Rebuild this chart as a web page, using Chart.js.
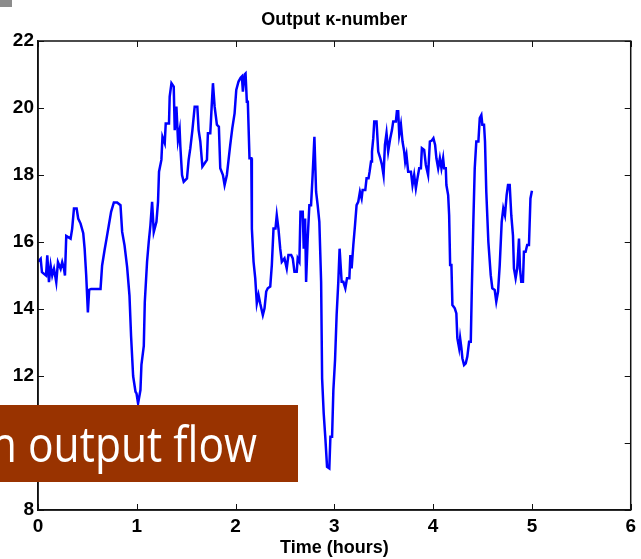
<!DOCTYPE html>
<html>
<head>
<meta charset="utf-8">
<script src="https://cdn.jsdelivr.net/npm/chart.js@4.4.0/dist/chart.umd.min.js"></script>
<style>
  html, body { margin: 0; padding: 0; background: #fff; }
  #wrap { width: 641px; height: 559px; }
</style>
</head>
<body>
<div id="wrap"><canvas id="myChart" width="641" height="559"></canvas></div>
<script>
// values
var timeHours = [
  0.000, 0.027, 0.040, 0.081, 0.094, 0.111, 0.128, 0.144, 0.162, 0.185,
  0.202, 0.229, 0.245, 0.263, 0.273, 0.286, 0.330, 0.346, 0.364, 0.391,
  0.407, 0.431, 0.458, 0.472, 0.488, 0.505, 0.518, 0.538, 0.633, 0.649,
  0.674, 0.694, 0.717, 0.740, 0.768, 0.801, 0.835, 0.852, 0.876, 0.902,
  0.926, 0.942, 0.963, 0.987, 0.997, 1.013, 1.037, 1.047, 1.071, 1.081,
  1.104, 1.121, 1.138, 1.155, 1.172, 1.199, 1.215, 1.225, 1.249, 1.260,
  1.283, 1.293, 1.326, 1.333, 1.351, 1.374, 1.384, 1.401, 1.417, 1.434,
  1.441, 1.458, 1.475, 1.508, 1.525, 1.542, 1.563, 1.586, 1.613, 1.626,
  1.643, 1.664, 1.687, 1.710, 1.720, 1.744, 1.758, 1.771, 1.788, 1.811,
  1.831, 1.845, 1.872, 1.889, 1.912, 1.929, 1.946, 1.967, 1.990, 2.007,
  2.030, 2.051, 2.064, 2.074, 2.091, 2.101, 2.114, 2.124, 2.141, 2.159,
  2.165, 2.182, 2.199, 2.215, 2.232, 2.249, 2.276, 2.293, 2.310, 2.326,
  2.351, 2.367, 2.384, 2.404, 2.417, 2.434, 2.452, 2.468, 2.495, 2.518,
  2.535, 2.563, 2.579, 2.596, 2.619, 2.629, 2.646, 2.657, 2.680, 2.690,
  2.704, 2.714, 2.730, 2.747, 2.764, 2.780, 2.798, 2.815, 2.831, 2.848,
  2.866, 2.876, 2.892, 2.909, 2.926, 2.949, 2.960, 2.977, 2.990, 3.007,
  3.023, 3.040, 3.053, 3.074, 3.091, 3.111, 3.128, 3.152, 3.162, 3.175,
  3.192, 3.209, 3.225, 3.242, 3.259, 3.276, 3.286, 3.313, 3.326, 3.346,
  3.357, 3.371, 3.381, 3.394, 3.404, 3.427, 3.444, 3.465, 3.482, 3.498,
  3.512, 3.528, 3.545, 3.566, 3.583, 3.596, 3.623, 3.633, 3.646, 3.657,
  3.674, 3.690, 3.707, 3.717, 3.730, 3.747, 3.775, 3.791, 3.808, 3.825,
  3.841, 3.859, 3.876, 3.886, 3.909, 3.926, 3.949, 3.967, 3.987, 4.003,
  4.020, 4.033, 4.051, 4.068, 4.084, 4.101, 4.111, 4.128, 4.134, 4.152,
  4.162, 4.172, 4.185, 4.195, 4.219, 4.235, 4.245, 4.263, 4.273, 4.286,
  4.296, 4.313, 4.330, 4.346, 4.364, 4.381, 4.391, 4.407, 4.421, 4.437,
  4.458, 4.472, 4.488, 4.498, 4.515, 4.525, 4.538, 4.559, 4.583, 4.599,
  4.623, 4.639, 4.657, 4.674, 4.694, 4.710, 4.727, 4.744, 4.758, 4.775,
  4.791, 4.808, 4.818, 4.835, 4.851, 4.869, 4.879, 4.892, 4.909, 4.919,
  4.936, 4.952, 4.970, 4.985, 5.000
];
var kappaNumber = [
  15.41, 15.50, 15.10, 15.00, 15.60, 14.80, 15.30, 15.00, 15.20, 14.80,
  15.40, 15.20, 15.40, 15.20, 15.00, 16.18, 16.10, 16.40, 17.00, 17.00,
  16.70, 16.55, 16.26, 15.80, 15.00, 13.90, 14.57, 14.60, 14.60, 15.30,
  15.76, 16.10, 16.50, 16.90, 17.18, 17.18, 17.10, 16.30, 15.90, 15.26,
  14.40, 13.20, 12.00, 11.53, 11.48, 11.18, 11.58, 12.33, 12.90, 14.20,
  15.41, 16.00, 16.50, 17.20, 16.30, 16.60, 17.20, 18.10, 18.45, 19.14,
  18.95, 19.54, 19.54, 20.34, 20.74, 20.64, 19.34, 20.04, 19.04, 19.34,
  18.85, 18.00, 17.80, 17.90, 18.45, 18.80, 19.34, 20.04, 20.04, 19.34,
  19.00, 18.25, 18.35, 18.45, 19.25, 19.25, 20.04, 20.74, 20.04, 19.50,
  19.44, 18.20, 18.00, 17.70, 18.00, 18.45, 18.90, 19.40, 19.84, 20.54,
  20.79, 20.90, 20.94, 20.49, 21.00, 21.03, 20.19, 20.19, 18.50, 18.50,
  16.40, 15.41, 14.92, 14.17, 14.42, 14.17, 13.82, 14.02, 14.52, 14.62,
  14.67, 15.31, 16.40, 16.40, 16.80, 16.40, 15.80, 15.41, 15.51, 15.21,
  15.61, 15.61, 15.51, 15.11, 15.11, 15.51, 15.41, 16.90, 16.90, 15.80,
  16.70, 14.81, 16.10, 17.10, 17.10, 18.00, 19.14, 17.50, 17.10, 16.60,
  14.81, 11.93, 10.89, 10.14, 9.29, 9.24, 10.19, 10.19, 11.58, 12.48,
  13.82, 14.81, 15.80, 14.81, 14.81, 14.62, 14.92, 14.92, 15.61, 15.21,
  15.91, 16.50, 17.10, 17.20, 17.50, 17.30, 17.55, 17.55, 17.90, 17.90,
  18.10, 18.40, 18.70, 19.10, 19.60, 19.60, 18.70, 18.50, 18.30, 18.00,
  18.90, 19.25, 18.70, 19.10, 19.34, 19.60, 19.60, 19.90, 19.90, 19.20,
  19.50, 19.00, 18.70, 18.40, 18.60, 18.10, 18.10, 17.70, 18.00, 17.60,
  17.90, 18.20, 18.20, 18.80, 18.75, 18.30, 18.00, 19.00, 19.03, 19.10,
  18.90, 18.50, 18.20, 18.50, 18.20, 18.50, 18.20, 18.20, 17.70, 17.40,
  16.80, 15.31, 15.31, 14.12, 14.02, 13.87, 13.13, 12.83, 13.13, 12.83,
  12.53, 12.33, 12.38, 12.58, 13.02, 13.02, 14.52, 16.60, 18.20, 19.00,
  19.00, 19.70, 19.79, 19.50, 19.50, 19.00, 17.50, 16.00, 15.01, 14.62,
  14.57, 14.22, 14.52, 15.31, 16.60, 17.00, 16.80, 17.40, 17.70, 17.70,
  16.80, 16.20, 15.21, 14.92, 15.21, 16.10, 15.21, 14.81, 14.81, 15.71,
  15.71, 15.91, 15.91, 17.30, 17.53
];
var xTickValues = [0, 1, 2, 3, 4, 5, 6];
var yTickValues = [8, 10, 12, 14, 16, 18, 20, 22];
var chartTitle = 'Output κ-number';
var xAxisTitle = 'Time (hours)';
var bannerText = 'n output flow';

var points = timeHours.map(function (t, i) { return { x: t, y: kappaNumber[i] }; });

// box, inward ticks, titles and the slide overlay on top
var matlabFrame = {
    id: 'matlabFrame',
    afterDraw: function (chart) {
        var c = chart.ctx;
        var a = chart.chartArea;
        var xs = chart.scales.x;
        var ys = chart.scales.y;
        c.save();
        c.strokeStyle = '#111';
        c.lineWidth = 1.5;
        c.strokeRect(a.left, a.top, a.right - a.left, a.bottom - a.top);
        c.lineWidth = 1;
        c.beginPath();
        xTickValues.forEach(function (v) {
            var px = Math.round(xs.getPixelForValue(v)) + 0.5;
            c.moveTo(px, a.bottom); c.lineTo(px, a.bottom - 6);
            c.moveTo(px, a.top); c.lineTo(px, a.top + 6);
        });
        yTickValues.forEach(function (v) {
            var py = Math.round(ys.getPixelForValue(v)) + 0.5;
            c.moveTo(a.left, py); c.lineTo(a.left + 6, py);
            c.moveTo(a.right, py); c.lineTo(a.right - 6, py);
        });
        c.stroke();

        c.fillStyle = '#000';
        c.font = 'bold 18px "Liberation Sans", Arial, sans-serif';
        c.textAlign = 'center';
        c.textBaseline = 'alphabetic';
        c.fillText(chartTitle, (a.left + a.right) / 2, 25);
        c.fillText(xAxisTitle, (a.left + a.right) / 2, 553);

        c.fillStyle = '#8c8c8c';
        c.fillRect(0, 0, 12, 7);

        c.fillStyle = '#993300';
        c.fillRect(0, 405, 298, 77);
        c.fillStyle = '#fff';
        c.font = '50px "Open Sans", "Noto Sans", sans-serif';
        c.textAlign = 'left';
        var tail = bannerText.slice(2);
        var head = bannerText.slice(0, 2);
        var sx = 229 / c.measureText(tail).width;
        c.translate(28, 462);
        c.scale(sx, 1);
        c.fillText(tail, 0, 0);
        c.fillText(head, -c.measureText(head).width, 0);
        c.restore();
    }
};

var tickFont = { family: '"Liberation Sans", Arial, sans-serif', size: 19, weight: 'bold' };

var ctx = document.getElementById('myChart').getContext('2d');
var chart = new Chart(ctx, {
    type: 'line',
    data: {
        datasets: [
            {
                label: chartTitle,
                data: points,
                borderColor: '#0000ff',
                borderWidth: 2.5,
                pointRadius: 0,
                tension: 0,
                fill: false
            }
        ]
    },
    options: {
        responsive: false,
        animation: false,
        layout: { padding: { left: 0, top: 41, right: 8, bottom: 0 } },
        plugins: {
            legend: { display: false },
            title: { display: false },
            tooltip: { enabled: false }
        },
        scales: {
            x: {
                type: 'linear',
                min: 0,
                max: 6,
                afterBuildTicks: function (s) { s.ticks = xTickValues.map(function (v) { return { value: v }; }); },
                afterFit: function (s) { s.height = 49; },
                grid: { display: false, drawTicks: false },
                border: { display: true, color: '#111', width: 1.5 },
                ticks: { color: '#000', font: tickFont, padding: 5, maxRotation: 0 }
            },
            y: {
                type: 'linear',
                min: 8,
                max: 22,
                afterBuildTicks: function (s) { s.ticks = yTickValues.map(function (v) { return { value: v }; }); },
                afterFit: function (s) { s.width = 38; },
                grid: { display: false, drawTicks: false },
                border: { display: true, color: '#111', width: 1.5 },
                ticks: { color: '#000', font: tickFont, padding: 4 }
            }
        }
    },
    plugins: [matlabFrame]
});
</script>
</body>
</html>
